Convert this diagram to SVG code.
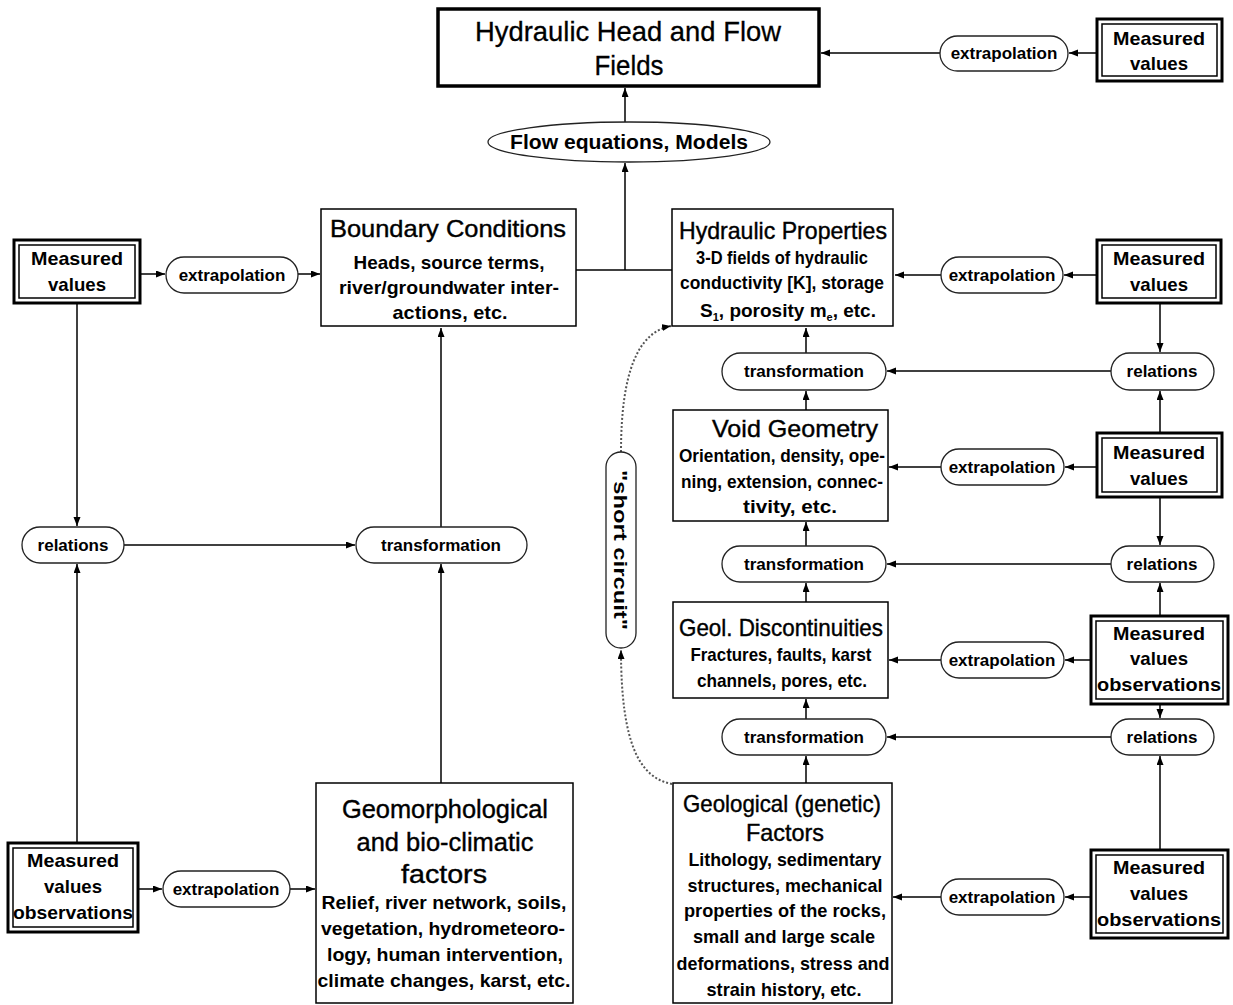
<svg xmlns="http://www.w3.org/2000/svg" width="1233" height="1005" viewBox="0 0 1233 1005">
<style>
text{font-family:"Liberation Sans",Arial,sans-serif;fill:#000;text-anchor:middle}
.t{font-size:24px;stroke:#000;stroke-width:0.4}
.tt{font-size:28px;stroke:#000;stroke-width:0.3}
.g{font-size:26px;stroke:#000;stroke-width:0.4}
.b{font-size:19px;font-weight:bold}
.p{font-size:17px;font-weight:bold}
.m{font-size:19px;font-weight:bold}
.box{fill:#fff;stroke:#000;stroke-width:1.5}
.pill{fill:#fff;stroke:#222;stroke-width:1.3}
.outer{fill:#fff;stroke:#000;stroke-width:3}
.inner{fill:none;stroke:#000;stroke-width:1.5}
.c{fill:none;stroke:#000;stroke-width:1.5}
.d{fill:none;stroke:#555;stroke-width:2;stroke-dasharray:2,2}
</style>
<defs>
<marker id="a" markerUnits="userSpaceOnUse" markerWidth="10" markerHeight="8" refX="9" refY="3.5" orient="auto"><path d="M0,0 L9,3.5 L0,7 z" fill="#000"/></marker>
</defs>

<g id="connectors">
<path class="c" d="M1096,53 H1069" marker-end="url(#a)"/>
<path class="c" d="M940,53 H821" marker-end="url(#a)"/>
<path class="c" d="M625,122 V88" marker-end="url(#a)"/>
<path class="c" d="M576,270 H672"/>
<path class="c" d="M625,270 V163" marker-end="url(#a)"/>
<path class="c" d="M140,274 H165" marker-end="url(#a)"/>
<path class="c" d="M298,274 H320" marker-end="url(#a)"/>
<path class="c" d="M77,303 V526" marker-end="url(#a)"/>
<path class="c" d="M77,843 V564" marker-end="url(#a)"/>
<path class="c" d="M124,545 H355" marker-end="url(#a)"/>
<path class="c" d="M441,783 V564" marker-end="url(#a)"/>
<path class="c" d="M441,527 V328" marker-end="url(#a)"/>
<path class="c" d="M138,889 H162" marker-end="url(#a)"/>
<path class="c" d="M290,889 H315" marker-end="url(#a)"/>

<path class="c" d="M1097,275 H1064" marker-end="url(#a)"/>
<path class="c" d="M941,275 H895" marker-end="url(#a)"/>
<path class="c" d="M1160,303 V352" marker-end="url(#a)"/>
<path class="c" d="M1111,371 H887" marker-end="url(#a)"/>
<path class="c" d="M806,353 V328" marker-end="url(#a)"/>
<path class="c" d="M806,410 V391" marker-end="url(#a)"/>
<path class="c" d="M1160,433 V391" marker-end="url(#a)"/>
<path class="c" d="M1097,467 H1065" marker-end="url(#a)"/>
<path class="c" d="M941,467 H889" marker-end="url(#a)"/>
<path class="c" d="M1160,497 V545" marker-end="url(#a)"/>
<path class="c" d="M1111,564 H887" marker-end="url(#a)"/>
<path class="c" d="M806,546 V522" marker-end="url(#a)"/>
<path class="c" d="M806,602 V583" marker-end="url(#a)"/>
<path class="c" d="M1160,616 V583" marker-end="url(#a)"/>
<path class="c" d="M1090,660 H1065" marker-end="url(#a)"/>
<path class="c" d="M941,660 H889" marker-end="url(#a)"/>
<path class="c" d="M1160,704 V718" marker-end="url(#a)"/>
<path class="c" d="M1111,737 H887" marker-end="url(#a)"/>
<path class="c" d="M806,719 V699" marker-end="url(#a)"/>
<path class="c" d="M806,783 V756" marker-end="url(#a)"/>
<path class="c" d="M1160,850 V756" marker-end="url(#a)"/>
<path class="c" d="M1090,897 H1065" marker-end="url(#a)"/>
<path class="c" d="M941,897 H893" marker-end="url(#a)"/>

<path class="d" d="M672,784 C640,778 621,745 621,650" marker-end="url(#a)"/>
<path class="d" d="M621,452 C621,372 638,332 671,326" marker-end="url(#a)"/>
</g>

<g id="hydraulic-head">
<rect x="438" y="9" width="381" height="77" fill="#fff" stroke="#000" stroke-width="3.5"/>
<text class="tt" x="628" y="41" textLength="306" lengthAdjust="spacingAndGlyphs">Hydraulic Head and Flow</text>
<text class="tt" x="629" y="75" textLength="69" lengthAdjust="spacingAndGlyphs">Fields</text>
</g>

<g id="flow-equations">
<ellipse cx="629" cy="142" rx="141" ry="20" fill="#fff" stroke="#222" stroke-width="1.3"/>
<text x="629" y="149" font-size="20" font-weight="bold" textLength="238" lengthAdjust="spacingAndGlyphs">Flow equations, Models</text>
</g>

<g id="mv-top-right">
<rect class="outer" x="1097" y="19" width="125" height="62"/>
<rect class="inner" x="1102" y="24" width="115" height="52"/>
<text class="m" x="1159" y="45" textLength="92" lengthAdjust="spacingAndGlyphs">Measured</text>
<text class="m" x="1159" y="70" textLength="58" lengthAdjust="spacingAndGlyphs">values</text>
</g>
<g id="extrap-top">
<rect class="pill" x="940" y="36" width="128" height="35" rx="17.5"/>
<text class="p" x="1004" y="59">extrapolation</text>
</g>

<g id="mv-left-top">
<rect class="outer" x="14" y="240" width="126" height="63"/>
<rect class="inner" x="19" y="245" width="116" height="53"/>
<text class="m" x="77" y="265" textLength="92" lengthAdjust="spacingAndGlyphs">Measured</text>
<text class="m" x="77" y="291" textLength="58" lengthAdjust="spacingAndGlyphs">values</text>
</g>
<g id="extrap-left-top">
<rect class="pill" x="166" y="257" width="132" height="36" rx="18"/>
<text class="p" x="232" y="281">extrapolation</text>
</g>

<g id="boundary-conditions">
<rect class="box" x="321" y="209" width="255" height="117"/>
<text class="t" x="448" y="237" textLength="236" lengthAdjust="spacingAndGlyphs">Boundary Conditions</text>
<text class="b" x="449" y="269" textLength="191" lengthAdjust="spacingAndGlyphs">Heads, source terms,</text>
<text class="b" x="449" y="294" textLength="220" lengthAdjust="spacingAndGlyphs">river/groundwater inter-</text>
<text class="b" x="450" y="319" textLength="115" lengthAdjust="spacingAndGlyphs">actions, etc.</text>
</g>

<g id="hydraulic-properties">
<rect class="box" x="672" y="209" width="221" height="117"/>
<text class="t" x="783" y="239" textLength="208" lengthAdjust="spacingAndGlyphs">Hydraulic Properties</text>
<text class="b" x="782" y="264" textLength="172" lengthAdjust="spacingAndGlyphs">3-D fields of hydraulic</text>
<text class="b" x="782" y="289" textLength="204" lengthAdjust="spacingAndGlyphs">conductivity [K], storage</text>
<text class="b" x="788" y="317">S<tspan font-size="11" dy="4">1</tspan><tspan dy="-4">, porosity m</tspan><tspan font-size="11" dy="4">e</tspan><tspan dy="-4">, etc.</tspan></text>
</g>

<g id="mv-right-1">
<rect class="outer" x="1097" y="240" width="124" height="63"/>
<rect class="inner" x="1102" y="245" width="114" height="53"/>
<text class="m" x="1159" y="265" textLength="92" lengthAdjust="spacingAndGlyphs">Measured</text>
<text class="m" x="1159" y="291" textLength="58" lengthAdjust="spacingAndGlyphs">values</text>
</g>
<g id="extrap-right-1">
<rect class="pill" x="941" y="257" width="122" height="36" rx="18"/>
<text class="p" x="1002" y="281">extrapolation</text>
</g>
<g id="transformation-1">
<rect class="pill" x="722" y="353" width="164" height="37" rx="18.5"/>
<text class="p" x="804" y="377">transformation</text>
</g>
<g id="relations-1">
<rect class="pill" x="1111" y="353" width="103" height="37" rx="18.5"/>
<text class="p" x="1162" y="377">relations</text>
</g>

<g id="void-geometry">
<rect class="box" x="673" y="410" width="215" height="111"/>
<text class="t" x="795" y="437" textLength="166" lengthAdjust="spacingAndGlyphs">Void Geometry</text>
<text class="b" x="782" y="462" textLength="206" lengthAdjust="spacingAndGlyphs">Orientation, density, ope-</text>
<text class="b" x="782" y="488" textLength="202" lengthAdjust="spacingAndGlyphs">ning, extension, connec-</text>
<text class="b" x="790" y="513" textLength="94" lengthAdjust="spacingAndGlyphs">tivity, etc.</text>
</g>
<g id="mv-right-2">
<rect class="outer" x="1097" y="433" width="125" height="64"/>
<rect class="inner" x="1102" y="438" width="115" height="54"/>
<text class="m" x="1159" y="459" textLength="92" lengthAdjust="spacingAndGlyphs">Measured</text>
<text class="m" x="1159" y="485" textLength="58" lengthAdjust="spacingAndGlyphs">values</text>
</g>
<g id="extrap-right-2">
<rect class="pill" x="941" y="449" width="123" height="36" rx="18"/>
<text class="p" x="1002" y="473">extrapolation</text>
</g>
<g id="transformation-2">
<rect class="pill" x="722" y="546" width="164" height="36" rx="18"/>
<text class="p" x="804" y="570">transformation</text>
</g>
<g id="relations-2">
<rect class="pill" x="1111" y="546" width="103" height="36" rx="18"/>
<text class="p" x="1162" y="570">relations</text>
</g>

<g id="geol-discontinuities">
<rect class="box" x="673" y="602" width="215" height="96"/>
<text class="t" x="781" y="636" textLength="204" lengthAdjust="spacingAndGlyphs">Geol. Discontinuities</text>
<text class="b" x="781" y="661" textLength="181" lengthAdjust="spacingAndGlyphs">Fractures, faults, karst</text>
<text class="b" x="782" y="687" textLength="170" lengthAdjust="spacingAndGlyphs">channels, pores, etc.</text>
</g>
<g id="mv-right-3">
<rect class="outer" x="1091" y="616" width="137" height="88"/>
<rect class="inner" x="1096" y="621" width="127" height="78"/>
<text class="m" x="1159" y="640" textLength="92" lengthAdjust="spacingAndGlyphs">Measured</text>
<text class="m" x="1159" y="665" textLength="58" lengthAdjust="spacingAndGlyphs">values</text>
<text class="m" x="1159" y="691" textLength="124" lengthAdjust="spacingAndGlyphs">observations</text>
</g>
<g id="extrap-right-3">
<rect class="pill" x="941" y="642" width="123" height="36" rx="18"/>
<text class="p" x="1002" y="666">extrapolation</text>
</g>
<g id="transformation-3">
<rect class="pill" x="722" y="719" width="164" height="36" rx="18"/>
<text class="p" x="804" y="743">transformation</text>
</g>
<g id="relations-3">
<rect class="pill" x="1111" y="719" width="103" height="36" rx="18"/>
<text class="p" x="1162" y="743">relations</text>
</g>

<g id="geological-factors">
<rect class="box" x="673" y="783" width="219" height="220"/>
<text class="t" x="782" y="812" textLength="198" lengthAdjust="spacingAndGlyphs">Geological (genetic)</text>
<text class="t" x="785" y="841" textLength="78" lengthAdjust="spacingAndGlyphs">Factors</text>
<text class="b" x="785" y="866" textLength="193" lengthAdjust="spacingAndGlyphs">Lithology, sedimentary</text>
<text class="b" x="785" y="892" textLength="195" lengthAdjust="spacingAndGlyphs">structures, mechanical</text>
<text class="b" x="785" y="917" textLength="202" lengthAdjust="spacingAndGlyphs">properties of the rocks,</text>
<text class="b" x="784" y="943" textLength="182" lengthAdjust="spacingAndGlyphs">small and large scale</text>
<text class="b" x="783" y="970" textLength="213" lengthAdjust="spacingAndGlyphs">deformations, stress and</text>
<text class="b" x="784" y="996" textLength="155" lengthAdjust="spacingAndGlyphs">strain history, etc.</text>
</g>
<g id="mv-right-4">
<rect class="outer" x="1091" y="850" width="137" height="88"/>
<rect class="inner" x="1096" y="855" width="127" height="78"/>
<text class="m" x="1159" y="874" textLength="92" lengthAdjust="spacingAndGlyphs">Measured</text>
<text class="m" x="1159" y="900" textLength="58" lengthAdjust="spacingAndGlyphs">values</text>
<text class="m" x="1159" y="926" textLength="124" lengthAdjust="spacingAndGlyphs">observations</text>
</g>
<g id="extrap-right-4">
<rect class="pill" x="941" y="879" width="123" height="36" rx="18"/>
<text class="p" x="1002" y="903">extrapolation</text>
</g>

<g id="short-circuit">
<rect class="pill" x="606" y="452" width="30" height="196" rx="15"/>
<text x="0" y="0" font-size="18" font-weight="bold" transform="translate(614,550) rotate(90)" textLength="160" lengthAdjust="spacingAndGlyphs">"short circuit"</text>
</g>

<g id="relations-left">
<rect class="pill" x="22" y="527" width="102" height="36" rx="18"/>
<text class="p" x="73" y="551">relations</text>
</g>
<g id="transformation-left">
<rect class="pill" x="356" y="527" width="171" height="36" rx="18"/>
<text class="p" x="441" y="551">transformation</text>
</g>

<g id="mv-left-bottom">
<rect class="outer" x="8" y="843" width="130" height="89"/>
<rect class="inner" x="13" y="848" width="120" height="79"/>
<text class="m" x="73" y="867" textLength="92" lengthAdjust="spacingAndGlyphs">Measured</text>
<text class="m" x="73" y="893" textLength="58" lengthAdjust="spacingAndGlyphs">values</text>
<text class="m" x="73" y="919" textLength="120" lengthAdjust="spacingAndGlyphs">observations</text>
</g>
<g id="extrap-left-bottom">
<rect class="pill" x="163" y="871" width="127" height="36" rx="18"/>
<text class="p" x="226" y="895">extrapolation</text>
</g>

<g id="geomorphological">
<rect class="box" x="316" y="783" width="257" height="220"/>
<text class="g" x="445" y="818" textLength="206" lengthAdjust="spacingAndGlyphs">Geomorphological</text>
<text class="g" x="445" y="851" textLength="177" lengthAdjust="spacingAndGlyphs">and bio-climatic</text>
<text class="g" x="444" y="883" textLength="86" lengthAdjust="spacingAndGlyphs">factors</text>
<text class="b" x="444" y="909" textLength="245" lengthAdjust="spacingAndGlyphs">Relief, river network, soils,</text>
<text class="b" x="443" y="935" textLength="244" lengthAdjust="spacingAndGlyphs">vegetation, hydrometeoro-</text>
<text class="b" x="445" y="961" textLength="236" lengthAdjust="spacingAndGlyphs">logy, human intervention,</text>
<text class="b" x="444" y="987" textLength="253" lengthAdjust="spacingAndGlyphs">climate changes, karst, etc.</text>
</g>
</svg>
